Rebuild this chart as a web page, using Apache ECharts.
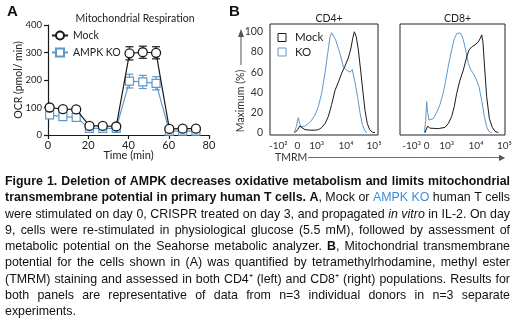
<!DOCTYPE html>
<html>
<head>
<meta charset="utf-8">
<script src="https://cdn.jsdelivr.net/npm/echarts@6/dist/echarts.min.js"></script>
<style>
  html, body { margin: 0; padding: 0; background: #fff; }
  #main { width: 520px; height: 323px; }
</style>
</head>
<body>
<div id="main"></div>
<script>
// ---- panel A : Seahorse OCR ----
var times   = [0.8, 7.4, 14.0, 20.6, 27.2, 33.9, 40.5, 47.1, 53.7, 60.3, 66.9, 73.5];
var mockOcr = [100, 94, 93, 33, 33, 31, 297, 301, 299, 22, 23, 23];
var mockErr = [6, 5, 5, 4, 4, 4, 24, 22, 22, 3, 3, 3];
var koOcr   = [73, 67, 64, 24, 24, 24, 196, 193, 188, 14, 14, 14];
var koErr   = [8, 6, 6, 4, 4, 4, 25, 24, 24, 3, 3, 3];

// ---- panel B : TMRM histograms (x = position on biexponential display scale, 0-100) ----
var cd4Mock = [[23.1,0],[25.6,3],[27.5,6.5],[29.3,5],[32.4,3],[37.0,2.5],[41.7,2.5],[44.8,3],[47.8,5],[50.9,9],
  [54.0,16],[57.1,28],[60.2,42],[63.3,50],[66.4,59],[69.4,66],[72.5,74],[75.0,84],[76.5,93],[78.1,100],
  [79.9,95],[81.8,82],[83.9,62],[86.1,40],[88.0,22],[90.1,9],[92.3,3],[94.8,0.5],[97.2,0]];
var cd4Ko = [[22.5,0],[24.4,6],[26.2,15],[27.5,9],[28.7,6],[32.4,6.5],[35.5,9],[38.6,12.5],[41.7,17.5],[44.8,26],
  [47.8,39],[50.9,59],[53.4,78.5],[55.6,95],[57.1,99],[58.6,98],[60.8,92],[63.3,83.5],[65.7,75],[67.9,65],
  [71.0,62],[74.1,60],[76.2,62.7],[78.7,50],[81.2,35],[83.3,20],[85.5,8],[88.0,1.5],[89.8,0]];
var cd8Mock = [[23.8,0],[26.3,6.6],[28.3,4.5],[30.2,3.3],[36.5,4],[42.9,5.3],[46.0,9],[49.2,16],[51.7,26],[54.0,39],
  [57.1,52],[60.3,62],[63.5,75],[65.7,82],[68.3,85],[71.4,87],[74.6,90],[76.2,93],[77.8,97],[79.0,90],
  [80.3,69],[82.5,36],[85.1,14],[87.9,5.3],[90.5,1.3],[93.7,0]];
var cd8Ko = [[23.2,0],[24.4,12],[25.4,30.7],[26.3,20],[27.6,12.5],[31.7,14],[34.9,20],[38.1,28],[41.3,40],[43.6,52],
  [46.0,66],[49.2,82],[51.7,93],[54.0,98],[55.6,98],[57.1,99],[58.7,96.7],[60.3,92],[62.5,82],[65.1,68.6],
  [67.6,62],[69.8,58.7],[71.4,60],[73.0,52],[75.2,45.5],[77.8,32],[80.3,16],[82.5,6],[84.8,1],[87.3,0]];

var cd4TickPos = [7.7, 25.3, 43.2, 70.4, 96.3];
var cd4TickLab = ['-10\u00b2', '0', '10\u00b3', '10\u2074', '10\u2075'];
var cd8TickPos = [11.1, 25.4, 44.4, 72.4, 99.5];
var cd8TickLab = ['-10\u00b3', '0', '10\u00b3', '10\u2074', '10\u2075'];
var pctTicks = [0, 20, 40, 60, 80, 100];

// ---- caption ----
var captionLines = [
  [['b', 'Figure 1. Deletion of AMPK decreases oxidative metabolism and limits mitochondrial']],
  [['b', 'transmembrane potential in primary human T cells. A'], ['n', ', Mock or '], ['c', 'AMPK KO'], ['n', ' human T cells']],
  [['n', 'were stimulated on day 0, CRISPR treated on day 3, and propagated '], ['i', 'in vitro'], ['n', ' in IL-2. On day']],
  [['n', '9, cells were re-stimulated in physiological glucose (5.5 mM), followed by assessment of']],
  [['n', 'metabolic potential on the Seahorse metabolic analyzer. '], ['b', 'B'], ['n', ', Mitochondrial transmembrane']],
  [['n', 'potential for the cells shown in (A) was quantified by tetramethylrhodamine, methyl ester']],
  [['n', '(TMRM) staining and assessed in both CD4\u207a (left) and CD8\u207a (right) populations. Results for']],
  [['n', 'both panels are representative of data from n=3 individual donors in n=3 separate']],
  [['n', 'experiments.']]
];

var KO_BLUE = '#5e98cc';
var INK = '#1a1a1a';
var FONT = 'Lato';
var CAP_FONT = 'Liberation Sans';
var CAP_SIZE = 12.4;

var chart = echarts.init(document.getElementById('main'), null, { renderer: 'canvas' });

function errSeries(name, vals, errs, color) {
  return {
    name: name + ' err', type: 'custom', xAxisIndex: 0, yAxisIndex: 0, z: 1, silent: true,
    data: times.map(function (t, i) { return [t, vals[i], errs[i]]; }),
    encode: { x: 0, y: 1 },
    renderItem: function (params, api) {
      var x = api.value(0), y = api.value(1), e = api.value(2);
      var top = api.coord([x, y + e]), bot = api.coord([x, y - e]);
      var st = { stroke: color, lineWidth: 1.2 };
      return {
        type: 'group', children: [
          { type: 'line', shape: { x1: top[0], y1: top[1], x2: bot[0], y2: bot[1] }, style: st },
          { type: 'line', shape: { x1: top[0] - 4, y1: top[1], x2: top[0] + 4, y2: top[1] }, style: st },
          { type: 'line', shape: { x1: bot[0] - 4, y1: bot[1], x2: bot[0] + 4, y2: bot[1] }, style: st }
        ]
      };
    }
  };
}

function histAxisX(idx, pos, lab) {
  return {
    type: 'value', gridIndex: idx, min: 0, max: 100,
    axisLine: { show: false }, splitLine: { show: false },
    axisTick: { show: false },
    axisLabel: {
      customValues: pos, margin: 6, fontSize: 10, fontFamily: FONT, color: '#333',
      formatter: function (v) { var k = pos.indexOf(v); return k >= 0 ? lab[k] : ''; }
    }
  };
}
function histAxisY(idx, showLab) {
  return {
    type: 'value', gridIndex: idx, min: -2.3, max: 107.7,
    axisLine: { show: false }, splitLine: { show: false }, axisTick: { show: false },
    axisLabel: { show: showLab, customValues: pctTicks, margin: 7, fontSize: 10.5, fontFamily: FONT, color: '#333' }
  };
}
function histLine(name, data, xi, color, z) {
  return {
    name: name, type: 'line', xAxisIndex: xi, yAxisIndex: xi, data: data,
    showSymbol: false, symbol: 'none', z: z, silent: true,
    lineStyle: { color: color, width: 1 }
  };
}

// caption words, justified by measuring each word
var measureCtx = document.createElement('canvas').getContext('2d');
function capFont(s) {
  var w = s === 'b' ? 'bold ' : '';
  var i = s === 'i' ? 'italic ' : '';
  return i + w + CAP_SIZE + 'px "' + CAP_FONT + '"';
}
function textW(s, t) { measureCtx.font = capFont(s); return measureCtx.measureText(t).width; }
var capRich = {
  n: { fontFamily: CAP_FONT, fontSize: CAP_SIZE, fill: '#111' },
  b: { fontFamily: CAP_FONT, fontSize: CAP_SIZE, fontWeight: 'bold', fill: '#111' },
  i: { fontFamily: CAP_FONT, fontSize: CAP_SIZE, fontStyle: 'italic', fill: '#111' },
  c: { fontFamily: CAP_FONT, fontSize: CAP_SIZE, fill: '#3d8ed8' }
};
var capLeft = 5, capRight = 510, capTop = 181.7, capStep = 16.25;
var capGraphics = [];
captionLines.forEach(function (runs, li) {
  var words = [[]];
  runs.forEach(function (r) {
    r[1].split(' ').forEach(function (part, j) {
      if (j > 0) words.push([]);
      if (part !== '') words[words.length - 1].push({ s: r[0], t: part });
    });
  });
  words = words.filter(function (w) { return w.length; });
  var widths = words.map(function (w) {
    return w.reduce(function (a, p) { return a + textW(p.s, p.t); }, 0);
  });
  var total = widths.reduce(function (a, b) { return a + b; }, 0);
  var last = li === captionLines.length - 1;
  var gap = last ? textW('n', ' ') : (capRight - capLeft - total) / (words.length - 1);
  var x = capLeft;
  words.forEach(function (w, k) {
    capGraphics.push({
      type: 'text', x: x, y: capTop + li * capStep, silent: true,
      style: {
        text: w.map(function (p) { return '{' + p.s + '|' + p.t + '}'; }).join(''),
        rich: capRich, verticalAlign: 'middle', textVerticalAlign: 'middle'
      }
    });
    x += widths[k] + gap;
  });
});

// TMRM arrow shaft built from box-drawing glyphs (text draws reliably in that strip)
var arrowColor = '#555';
var SHAFT_FONT = '10px "DejaVu Sans"';
measureCtx.font = SHAFT_FONT;
var dashW = measureCtx.measureText('\u2500').width || 6;
var shaftText = '';
for (var n = 0; n < Math.round(192 / dashW); n++) shaftText += '\u2500';

var otherGraphics = [
  { type: 'text', x: 7, y: 12, style: { text: 'A', font: 'bold 15px "Liberation Sans"', fill: '#111', verticalAlign: 'middle', textVerticalAlign: 'middle' } },
  { type: 'text', x: 229, y: 12, style: { text: 'B', font: 'bold 15px "Liberation Sans"', fill: '#111', verticalAlign: 'middle', textVerticalAlign: 'middle' } },
  // y arrow + label for histograms
  { type: 'rect', shape: { x: 240.5, y: 36, width: 1, height: 29 }, style: { fill: arrowColor } },
  { type: 'polygon', shape: { points: [[241, 29], [238, 37], [244, 37]] }, style: { fill: arrowColor } },
  { type: 'text', x: 241, y: 101, rotation: Math.PI / 2,
    style: { text: 'Maximum (%)', font: '10.5px Lato', fill: '#333', align: 'center', textAlign: 'center', verticalAlign: 'middle', textVerticalAlign: 'middle' } },
  { type: 'text', x: 275, y: 158, style: { text: 'TMRM', font: '10.5px Lato', fill: '#333', verticalAlign: 'middle', textVerticalAlign: 'middle' } },
  { type: 'text', x: 308, y: 158, style: { text: shaftText, font: SHAFT_FONT, fill: arrowColor, verticalAlign: 'middle', textVerticalAlign: 'middle' } },
  { type: 'text', x: 499, y: 158, style: { text: '\u25b6', font: '8px "DejaVu Sans"', fill: arrowColor, verticalAlign: 'middle', textVerticalAlign: 'middle' } },
  // histogram legend
  { type: 'rect', shape: { x: 278, y: 33.5, width: 8, height: 8 }, style: { fill: '#fff', stroke: INK, lineWidth: 1 } },
  { type: 'text', x: 295, y: 37.5, style: { text: 'Mock', font: '11.5px Lato', fill: '#222', verticalAlign: 'middle', textVerticalAlign: 'middle' } },
  { type: 'rect', shape: { x: 278, y: 48, width: 8, height: 8 }, style: { fill: '#fff', stroke: KO_BLUE, lineWidth: 1 } },
  { type: 'text', x: 295, y: 52, style: { text: 'KO', font: '11.5px Lato', fill: '#222', verticalAlign: 'middle', textVerticalAlign: 'middle' } }
];

var axisStyleA = { show: true, lineStyle: { color: INK, width: 1.2 } };
var option = {
  animation: false,
  backgroundColor: '#fff',
  textStyle: { fontFamily: FONT },
  title: [
    { text: 'Mitochondrial Respiration', left: 130, top: 8, textAlign: 'center', textStyle: { fontSize: 10.5, fontWeight: 'normal', fontFamily: FONT, color: '#222' } },
    { text: 'CD4+', left: 324, top: 8, textAlign: 'center', textStyle: { fontSize: 10.5, fontWeight: 'normal', fontFamily: FONT, color: '#222' } },
    { text: 'CD8+', left: 452.5, top: 8, textAlign: 'center', textStyle: { fontSize: 10.5, fontWeight: 'normal', fontFamily: FONT, color: '#222' } }
  ],
  legend: {
    orient: 'vertical', left: 46, top: 25, itemWidth: 16, itemHeight: 10, itemGap: 6,
    textStyle: { fontSize: 10.5, fontFamily: FONT, color: '#222' },
    data: ['Mock', 'AMPK KO']
  },
  grid: [
    { left: 48, top: 25, width: 161, height: 110 },
    { left: 270, top: 24, width: 108, height: 111, show: true, borderColor: '#222', borderWidth: 1, backgroundColor: 'transparent' },
    { left: 400, top: 24, width: 105, height: 111, show: true, borderColor: '#222', borderWidth: 1, backgroundColor: 'transparent' }
  ],
  xAxis: [
    {
      type: 'value', gridIndex: 0, min: 0, max: 80, interval: 20,
      axisLine: axisStyleA, splitLine: { show: false },
      axisTick: { show: true, length: 4, lineStyle: { color: INK, width: 1.2 } },
      axisLabel: { margin: 5, fontSize: 11, color: '#222', fontFamily: FONT },
      name: 'Time (min)', nameLocation: 'middle', nameGap: 15, nameMoveOverlap: false,
      nameTextStyle: { fontSize: 11, color: '#222', fontFamily: FONT }
    },
    histAxisX(1, cd4TickPos, cd4TickLab),
    histAxisX(2, cd8TickPos, cd8TickLab)
  ],
  yAxis: [
    {
      type: 'value', gridIndex: 0, min: 0, max: 400, interval: 100,
      axisLine: axisStyleA, splitLine: { show: false },
      axisTick: { show: true, length: 4, lineStyle: { color: INK, width: 1.2 } },
      axisLabel: { margin: 6, fontSize: 9.5, color: '#222', fontFamily: FONT },
      name: 'OCR (pmol/ min)', nameLocation: 'middle', nameGap: 24, nameMoveOverlap: false,
      nameTextStyle: { fontSize: 10.5, color: '#222', fontFamily: FONT }
    },
    histAxisY(1, true),
    histAxisY(2, false)
  ],
  series: [
    {
      name: 'Mock', type: 'line', xAxisIndex: 0, yAxisIndex: 0, z: 4,
      data: times.map(function (t, i) { return [t, mockOcr[i]]; }),
      symbol: 'circle', symbolSize: 9,
      itemStyle: { color: '#fff', borderColor: INK, borderWidth: 1.3 },
      lineStyle: { color: INK, width: 1.2 }
    },
    {
      name: 'AMPK KO', type: 'line', xAxisIndex: 0, yAxisIndex: 0, z: 3,
      data: times.map(function (t, i) { return [t, koOcr[i]]; }),
      symbol: 'rect', symbolSize: 8,
      itemStyle: { color: '#fff', borderColor: KO_BLUE, borderWidth: 1.2 },
      lineStyle: { color: KO_BLUE, width: 1.2 }
    },
    errSeries('AMPK KO', koOcr, koErr, KO_BLUE),
    errSeries('Mock', mockOcr, mockErr, INK),
    histLine('KO', cd4Ko, 1, KO_BLUE, 2),
    histLine('Mock CD4', cd4Mock, 1, INK, 3),
    histLine('KO', cd8Ko, 2, KO_BLUE, 2),
    histLine('Mock CD8', cd8Mock, 2, INK, 3)
  ],
  graphic: otherGraphics.concat(capGraphics)
};
chart.setOption(option);
</script>
</body>
</html>
